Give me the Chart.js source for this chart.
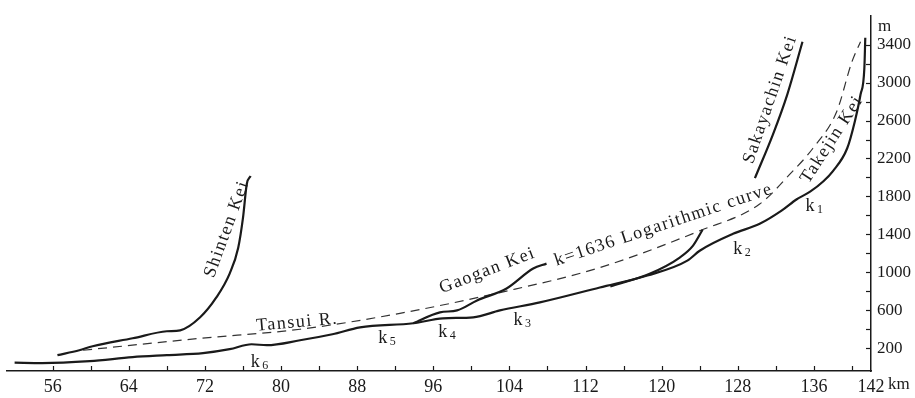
<!DOCTYPE html>
<html>
<head>
<meta charset="utf-8">
<script src="https://cdn.jsdelivr.net/npm/chart.js@4.4.1/dist/chart.umd.min.js"></script>
<style>
  html, body { margin: 0; padding: 0; background: #fff; }
  canvas { display: block; }
</style>
</head>
<body>
<canvas id="profileChart" width="915" height="398"></canvas>
<script>
// Tansui R. main profile (continues upstream as Takejin Kei)
const mainKm   = [52.0, 54.9, 59.9, 64.4, 68.0, 71.8, 74.6, 76.9, 78.5, 82.0, 85.4, 88.3, 93.9, 97.0, 100.2, 103.0, 107.2, 113.5, 118.5, 122.7, 124.0, 127.5, 130.3, 132.6, 134.2, 135.6, 137.0, 138.0, 139.5, 140.3, 140.9, 141.3, 141.4];
const mainElev = [48, 43, 64, 106, 127, 148, 190, 242, 232, 284, 347, 420, 463, 515, 526, 599, 683, 840, 966, 1123, 1228, 1406, 1511, 1650, 1770, 1850, 1960, 2067, 2308, 2591, 2874, 3148, 3473];

// k=1636 logarithmic curve (dashed)
const logKm   = [59.2, 71.5, 82.0, 92.5, 103.0, 113.5, 124.0, 130.3, 133.5, 135.9, 138.4, 140.0, 140.9];
const logElev = [179, 304, 400, 568, 787, 1050, 1438, 1720, 2037, 2308, 2696, 3221, 3431];

// tributaries
const shintenKm   = [56.5, 58.8, 60.2, 64.4, 68.0, 69.4, 71.5, 73.2, 74.6, 75.5, 76.0, 76.4, 76.8];
const shintenElev = [127, 179, 221, 305, 379, 389, 526, 735, 987, 1260, 1574, 1931, 2015];

const gaoganKm   = [93.9, 96.7, 98.5, 100.6, 103.7, 106.5, 107.9];
const gaoganElev = [463, 578, 599, 704, 830, 1040, 1092];

const sideKm   = [114.6, 118.8, 121.9, 123.3, 124.3];
const sideElev = [852, 988, 1156, 1282, 1449];

const sakayachinKm   = [129.8, 131.7, 133.2, 134.8];
const sakayachinElev = [1993, 2455, 2874, 3430];

// axes
const xTicks = [56, 60, 64, 68, 72, 76, 80, 84, 88, 92, 96, 100, 104, 108, 112, 116, 120, 124, 128, 132, 136, 140, 142];
const xLabels = [56, 64, 72, 80, 88, 96, 104, 112, 120, 128, 136, 142];
const yTicks = [200, 400, 600, 800, 1000, 1200, 1400, 1600, 1800, 2000, 2200, 2400, 2600, 2800, 3000, 3200, 3400];
const yLabels = [200, 600, 1000, 1400, 1800, 2200, 2600, 3000, 3400];

// text on the plot
const notes = [
  { text: 'Shinten Kei', km: 74.3, m: 1457, rot: -70 },
  { text: 'Tansui R.', km: 81.7, m: 472, rot: -5 },
  { text: 'Gaogan Kei', km: 101.7, m: 1018, rot: -21 },
  { text: 'k=1636 Logarithmic curve', km: 120.2, m: 1500, rot: -18.5 },
  { text: 'Sakayachin Kei', km: 131.4, m: 2822, rot: -71 },
  { text: 'Takejin Kei', km: 137.9, m: 2400, rot: -57 }
];
const kMarks = [
  { sub: '1', km: 135.6, m: 1699 },
  { sub: '2', km: 128.0, m: 1248 },
  { sub: '3', km: 104.9, m: 494 },
  { sub: '4', km: 97.0, m: 368 },
  { sub: '5', km: 90.7, m: 305 },
  { sub: '6', km: 77.3, m: 53 }
];

const pts = (xs, ys) => xs.map((v, i) => ({ x: v, y: ys[i] }));
const INK = '#1a1a1a';
const SERIF = "'Liberation Serif', 'DejaVu Serif', serif";

function solid(data) {
  return {
    data: data,
    borderColor: INK,
    borderWidth: 2.2,
    pointRadius: 0,
    fill: false,
    cubicInterpolationMode: 'monotone'
  };
}

// tick marks inside + loose text
const overlay = {
  id: 'overlay',
  afterDraw(chart) {
    const { ctx, scales: { x, y } } = chart;
    const area = chart.chartArea;
    ctx.save();
    ctx.strokeStyle = INK;
    ctx.lineWidth = 1.2;
    xTicks.forEach(v => {
      if (v >= x.max) return;
      const px = Math.round(x.getPixelForValue(v)) + 0.5;
      ctx.beginPath();
      ctx.moveTo(px, area.bottom);
      ctx.lineTo(px, area.bottom - 5);
      ctx.stroke();
    });
    yTicks.forEach(v => {
      const py = Math.round(y.getPixelForValue(v)) + 0.5;
      ctx.beginPath();
      ctx.moveTo(area.right, py);
      ctx.lineTo(area.right - 5, py);
      ctx.stroke();
    });

    ctx.fillStyle = INK;
    ctx.textAlign = 'left';
    ctx.textBaseline = 'middle';
    ctx.font = '17px ' + SERIF;
    ctx.fillText('m', area.right + 7, area.top + 10);
    ctx.fillText('km', x.getPixelForValue(142) + 17, area.bottom + 14);

    ctx.font = '18px ' + SERIF;
    ctx.letterSpacing = '1.5px';
    ctx.textAlign = 'center';
    notes.forEach(n => {
      ctx.save();
      ctx.translate(x.getPixelForValue(n.km), y.getPixelForValue(n.m));
      ctx.rotate(n.rot * Math.PI / 180);
      ctx.fillText(n.text, 0, 0);
      ctx.restore();
    });
    ctx.letterSpacing = '0px';

    kMarks.forEach(k => {
      const px = x.getPixelForValue(k.km);
      const py = y.getPixelForValue(k.m);
      ctx.font = '18px ' + SERIF;
      ctx.fillText('k', px, py);
      ctx.font = '12px ' + SERIF;
      ctx.fillText(k.sub, px + 10, py + 4);
    });
    ctx.restore();
  }
};

new Chart(document.getElementById('profileChart'), {
  type: 'line',
  data: {
    datasets: [
      solid(pts(mainKm, mainElev)),
      solid(pts(shintenKm, shintenElev)),
      solid(pts(gaoganKm, gaoganElev)),
      solid(pts(sideKm, sideElev)),
      solid(pts(sakayachinKm, sakayachinElev)),
      {
        data: pts(logKm, logElev),
        borderColor: '#333',
        borderWidth: 1.2,
        borderDash: [9, 6],
        pointRadius: 0,
        fill: false,
        cubicInterpolationMode: 'monotone'
      }
    ]
  },
  options: {
    responsive: false,
    animation: false,
    devicePixelRatio: 1,
    layout: { padding: { left: 7, top: 15, right: 0, bottom: 0 } },
    plugins: { legend: { display: false }, tooltip: { enabled: false } },
    scales: {
      x: {
        type: 'linear',
        position: 'bottom',
        min: 51.2,
        max: 142,
        grid: { display: false, drawTicks: false },
        border: { display: true, color: INK, width: 1.5 },
        afterBuildTicks: s => { s.ticks = xTicks.map(v => ({ value: v })); },
        afterFit: s => { s.height = 27; },
        ticks: {
          autoSkip: false,
          maxRotation: 0,
          padding: 5,
          color: INK,
          font: { family: SERIF, size: 18 },
          callback: v => xLabels.includes(v) ? String(v) : ''
        }
      },
      y: {
        type: 'linear',
        position: 'right',
        min: -40,
        max: 3700,
        grid: { display: false, drawTicks: false },
        border: { display: true, color: INK, width: 1.5 },
        afterBuildTicks: s => { s.ticks = yTicks.map(v => ({ value: v })); },
        afterFit: s => { s.width = 44; },
        ticks: {
          autoSkip: false,
          padding: 6,
          color: INK,
          font: { family: SERIF, size: 17 },
          callback: v => yLabels.includes(v) ? String(v) : ''
        }
      }
    }
  },
  plugins: [overlay]
});
</script>
</body>
</html>
